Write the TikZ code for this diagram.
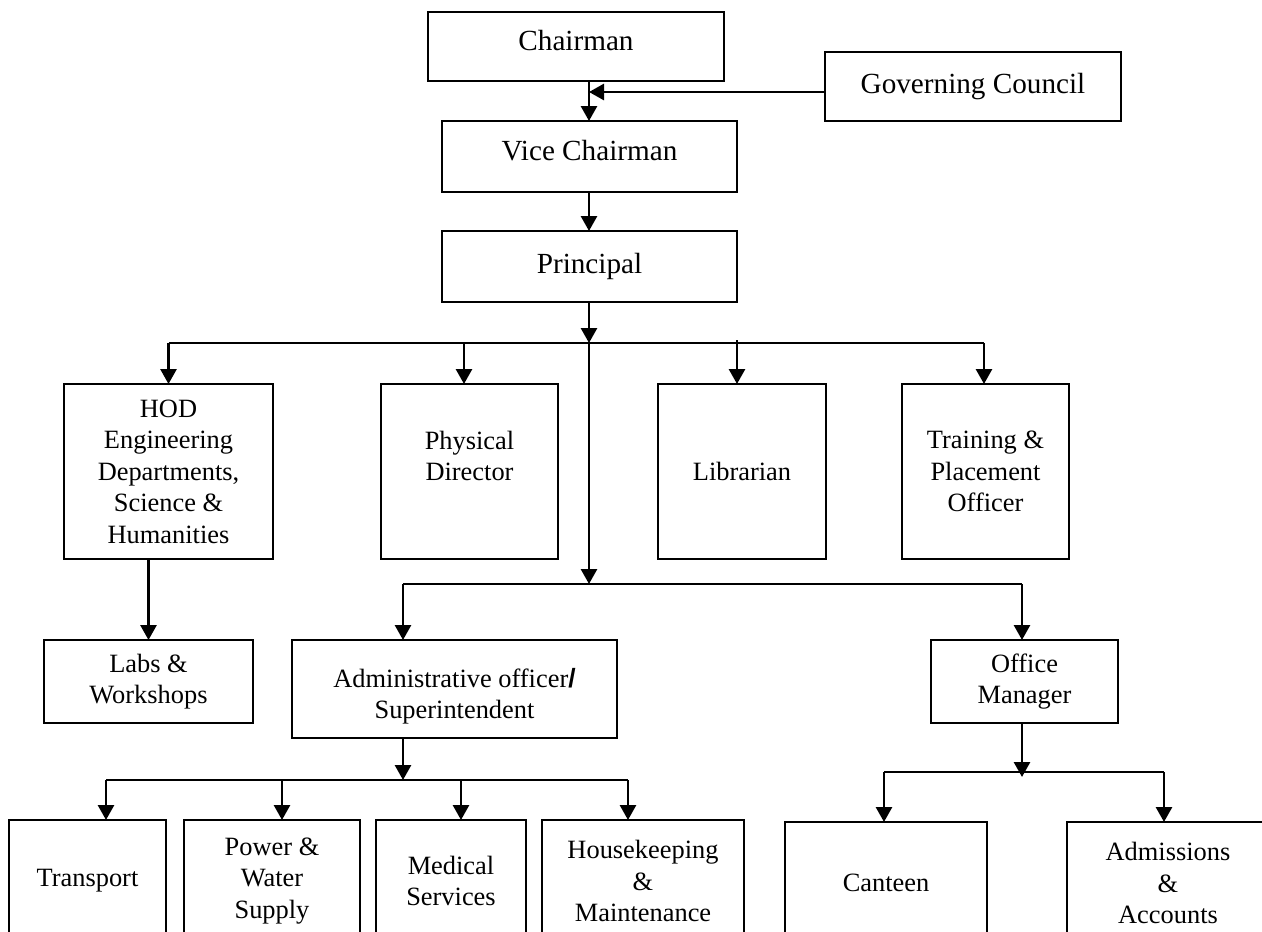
\documentclass[tikz,border=0pt]{standalone}
\usepackage{fontspec}
\setmainfont{Liberation Serif}
\setsansfont{Liberation Sans}
\usetikzlibrary{arrows.meta,positioning}

\newcommand\bigsize{\fontsize{29.2}{33}\selectfont}
\newcommand\smallsize{\fontsize{26.4}{31.5}\selectfont}

\begin{document}
\begin{tikzpicture}[
  x=1pt, y=-1pt,
  box/.style={draw, line width=2pt, inner sep=0pt, outer sep=0pt,
              align=center, font=\smallsize},
  head/.style={box, font=\bigsize},
  wire/.style={line width=2.8pt},
  arr/.style={wire, -{Triangle[length=15pt,width=16pt]}}
]
\useasboundingbox (0,0) rectangle (1262,932);

% management
\node[head, minimum width=296pt, minimum height=69pt] (chair)   at (576,46.5)   {Chairman\\[-20pt]\mbox{}};
\node[head, minimum width=296pt, minimum height=69pt] (council) at (973,86.5)   {Governing Council};
\node[head, minimum width=295pt, minimum height=71pt] (vice)    at (589.5,156.5) {Vice Chairman\\[-20pt]\mbox{}};
\node[head, minimum width=295pt, minimum height=71pt] (princ)   at (589.5,266.5) {Principal};

% first level under principal
\node[box, minimum width=209pt, minimum height=175pt] (hod)  at (168.5,471.5)
  {HOD\\Engineering\\Departments,\\Science \&\\Humanities};
\node[box, minimum width=177pt, minimum height=175pt] (phys) at (469.5,471.5) {Physical\\Director\\\mbox{}};
\node[box, minimum width=168pt, minimum height=175pt] (lib)  at (742,471.5)   {Librarian};
\node[box, minimum width=167pt, minimum height=175pt] (tpo)  at (985.5,471.5) {Training \&\\Placement\\Officer};

% second level
\node[box, minimum width=209pt, minimum height=83pt] (labs)   at (148.5,681.5)  {Labs \&\\Workshops};
\node[box, minimum width=325pt, minimum height=98pt] (admin)  at (454.5,689)
  {\rule{0pt}{34pt}Administrative officer{\sffamily\bfseries /}\\Superintendent};
\node[box, minimum width=187pt, minimum height=83pt] (office) at (1024.5,681.5) {Office\\Manager};

% bottom row (runs off the page)
\node[box, minimum width=157pt, minimum height=122pt] (trans)   at (87.5,881) {Transport};
\node[box, minimum width=176pt, minimum height=122pt] (power)   at (272,881)  {Power \&\\Water\\Supply};
\node[box, minimum width=150pt, minimum height=122pt] (medical) at (451,881)  {Medical\\Services};
\node[box, minimum width=202pt, minimum height=122pt] (house)   at (643,881)  {Housekeeping\\\&\\Maintenance};
\node[box, minimum width=202pt, minimum height=122pt] (canteen) at (886,883)  {Canteen};
\node[box, minimum width=202pt, minimum height=122pt] (admiss)  at (1168,883) {Admissions\\\&\\Accounts};

% junctions
\coordinate (gc)  at (589,92);
\coordinate (b1)  at (589,343);
\coordinate (b2)  at (589,584);
\coordinate (a1)  at (403,584);
\coordinate (o1)  at (1022,584);
\coordinate (a2)  at (403,780);
\coordinate (t1)  at (106,780);
\coordinate (p1)  at (282,780);
\coordinate (m1)  at (461,780);
\coordinate (h1)  at (628,780);
\coordinate (o2)  at (1022,772);
\coordinate (c1)  at (884,772);
\coordinate (d1)  at (1164,772);

\draw[arr] (b1 |- chair.south) -- (b1 |- vice.north);
\draw[arr] (council.west |- gc) -- (gc);
\draw[arr] (b1 |- vice.south) -- (b1 |- princ.north);
\draw[arr] (b1 |- princ.south) -- (b1);

\draw[wire] (hod.north |- b1) -- (984,343);
\draw[arr] (hod.north |- b1) -- (hod.north);
\draw[arr] (464,343) -- (464,384);
\draw[arr] (737,340) -- (737,384);
\draw[arr] (984,343) -- (984,384);
\draw[arr] (b1) -- (b2);

\draw[wire] (a1) -- (o1);
\draw[arr] (a1) -- (a1 |- admin.north);
\draw[arr] (o1) -- (o1 |- office.north);
\draw[arr] (labs.north |- hod.south) -- (labs.north);

\draw[arr] (a1 |- admin.south) -- (a2);
\draw[wire] (t1) -- (h1);
\draw[arr] (t1) -- (t1 |- trans.north);
\draw[arr] (p1) -- (p1 |- power.north);
\draw[arr] (m1) -- (m1 |- medical.north);
\draw[arr] (h1) -- (h1 |- house.north);

\draw[arr] (office.south -| o2) -- (1022,777);
\draw[wire] (c1) -- (d1);
\draw[arr] (c1) -- (c1 |- canteen.north);
\draw[arr] (d1) -- (d1 |- admiss.north);
\end{tikzpicture}
\end{document}
